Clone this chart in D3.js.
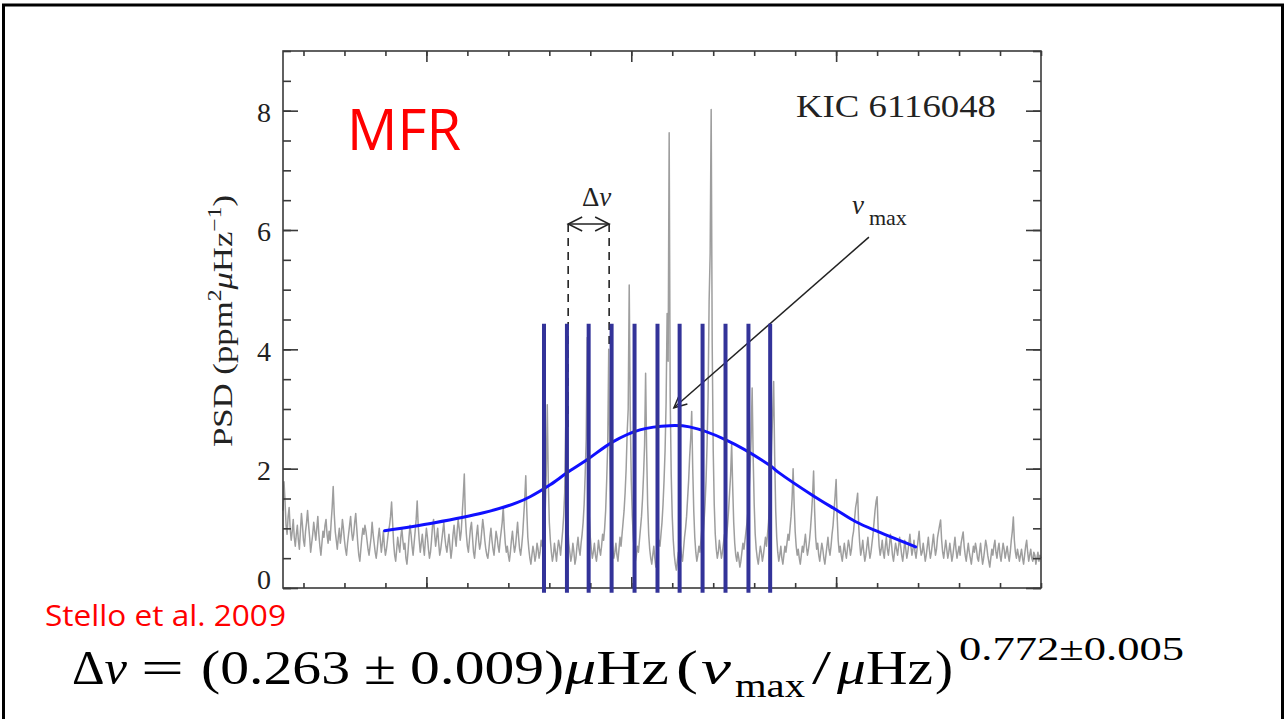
<!DOCTYPE html>
<html>
<head>
<meta charset="utf-8">
<script src="https://cdn.jsdelivr.net/npm/d3@7"></script>
<style>
  body { margin: 0; background: #fff; }
  svg { display: block; }
</style>
</head>
<body>
<svg id="chart" width="1285" height="719"></svg>
<script>
// Power spectrum of KIC 6116048: frequency grid (μHz) and PSD values (ppm² μHz⁻¹)
const freqStart = 1150;
const freqStep = 2.5;
const psd = [
  1.30,1.78,1.45,1.05,0.90,1.20,1.35,1.00,0.80,0.95,1.15,0.85,0.70,0.90,1.05,0.80,0.65,0.95,1.25,1.05,
  0.80,0.70,0.95,1.10,1.30,1.05,0.85,0.60,0.75,0.90,1.10,0.95,0.80,1.00,1.20,0.90,0.70,0.55,0.75,0.95,
  0.85,1.05,1.15,0.90,0.75,0.95,0.80,1.10,1.35,1.70,1.25,0.95,0.80,0.65,0.85,1.00,0.75,0.90,1.15,1.00,
  0.80,0.65,0.55,0.75,0.90,1.05,1.20,0.95,0.80,0.90,1.10,1.25,1.00,0.75,0.55,0.45,0.65,0.85,1.00,0.90,
  1.05,0.95,0.80,0.65,0.55,0.70,0.85,1.10,0.90,0.75,0.60,0.50,0.65,0.85,1.00,0.80,0.60,0.75,0.95,0.70,
  0.55,0.65,0.80,0.95,1.05,1.20,1.44,1.10,0.75,0.55,0.45,0.65,0.85,0.70,0.60,0.85,1.00,0.80,0.65,0.75,
  0.50,0.40,0.60,0.85,1.05,0.90,0.70,0.55,0.75,0.95,1.15,1.46,1.05,0.80,0.60,0.75,0.90,0.70,0.55,0.80,
  1.00,0.85,0.65,0.50,0.60,0.80,1.05,1.15,0.90,0.70,0.85,1.00,0.75,0.55,0.65,0.80,0.95,1.10,0.85,0.70,
  0.60,0.75,0.90,0.70,0.50,0.65,0.90,1.05,0.85,0.70,0.95,1.15,1.00,0.80,0.95,1.25,1.55,1.91,1.20,0.90,
  0.70,0.60,0.80,1.00,1.10,0.85,0.60,0.50,0.70,0.90,1.05,0.80,0.65,0.75,0.95,1.15,1.00,0.80,0.65,0.55,
  0.50,0.65,0.85,1.00,0.80,0.65,0.55,0.75,0.95,0.85,0.70,0.60,0.80,0.95,1.10,1.36,1.00,0.75,0.60,0.70,
  0.55,0.45,0.60,0.80,0.95,0.75,0.60,0.70,0.90,1.10,0.85,0.65,0.55,0.70,0.90,1.20,1.50,1.88,1.30,0.85,
  0.65,0.50,0.40,0.55,0.70,0.60,0.45,0.55,0.75,0.65,0.50,0.60,0.80,0.70,0.85,1.00,1.30,1.90,3.07,1.80,
  1.10,0.80,0.60,0.45,0.55,0.75,0.60,0.45,0.65,0.80,0.70,0.55,0.75,0.95,1.20,1.60,2.70,1.70,1.05,0.75,
  0.60,0.45,0.55,0.75,0.60,0.40,0.50,0.70,0.85,0.65,0.55,0.75,0.90,1.10,1.40,1.90,2.50,4.20,2.10,1.20,
  0.85,0.65,0.50,0.60,0.75,0.55,0.45,0.60,0.80,0.65,0.55,0.70,0.90,0.80,1.00,1.30,1.80,2.40,4.00,2.20,
  1.30,0.90,0.65,0.50,0.60,0.75,0.55,0.45,0.65,0.85,0.70,0.90,1.10,1.30,1.60,2.00,2.60,3.00,5.08,2.90,
  1.80,1.20,0.85,0.60,0.45,0.55,0.70,0.60,0.80,1.00,1.20,1.50,1.90,2.40,3.60,2.30,1.40,0.90,0.65,0.50,
  0.40,0.55,0.70,0.50,0.35,0.45,0.65,0.80,0.70,0.90,1.10,1.40,1.80,2.30,3.10,4.60,3.80,7.63,3.20,1.90,
  1.20,0.80,0.55,0.40,0.30,0.45,0.60,0.50,0.70,0.55,0.45,0.65,0.85,1.00,1.20,1.50,1.80,2.20,2.50,2.96,
  2.00,1.30,0.85,0.60,0.45,0.55,0.70,0.60,0.80,1.00,0.85,1.10,1.40,1.80,2.40,3.20,4.80,5.60,8.02,4.10,
  2.30,1.40,0.90,0.65,0.50,0.60,0.80,0.65,0.50,0.60,0.75,0.90,0.70,0.85,1.05,1.30,1.60,1.90,2.43,1.70,
  1.10,0.75,0.55,0.45,0.60,0.50,0.35,0.45,0.60,0.75,0.65,0.80,0.95,1.10,1.30,1.60,2.00,2.50,3.35,2.20,
  1.40,0.90,0.65,0.50,0.40,0.55,0.70,0.60,0.45,0.55,0.70,0.85,0.70,0.90,1.10,1.40,1.80,2.40,2.90,3.46,
  2.20,1.30,0.85,0.60,0.45,0.55,0.70,0.50,0.40,0.55,0.70,0.60,0.75,0.90,0.80,1.00,1.20,1.50,2.00,1.40,
  0.95,0.70,0.55,0.65,0.50,0.40,0.55,0.70,0.60,0.75,0.90,0.70,0.55,0.65,0.80,1.00,1.25,1.55,1.96,1.30,
  0.85,0.65,0.75,0.55,0.45,0.60,0.75,0.65,0.50,0.40,0.55,0.70,0.85,0.65,0.55,0.70,0.90,1.05,1.30,1.55,
  1.82,1.20,0.80,0.60,0.70,0.55,0.45,0.60,0.75,0.60,0.50,0.65,0.80,0.70,0.55,0.65,0.85,0.95,1.15,1.35,
  1.45,1.59,1.05,0.75,0.55,0.65,0.80,0.60,0.45,0.55,0.70,0.85,0.65,0.50,0.60,0.75,0.90,1.10,1.30,1.45,
  1.53,1.00,0.70,0.55,0.65,0.80,0.60,0.50,0.70,0.85,0.65,0.55,0.70,0.90,0.75,0.55,0.45,0.60,0.75,0.65,
  0.55,0.70,0.85,0.70,0.55,0.45,0.60,0.80,0.65,0.50,0.60,0.75,0.90,0.70,0.55,0.65,0.80,0.60,0.50,0.65,
  0.80,0.95,0.70,0.55,0.60,0.75,0.60,0.45,0.55,0.70,0.85,0.65,0.50,0.60,0.75,0.90,0.70,0.55,0.65,0.85,
  0.95,1.05,1.14,0.80,0.60,0.50,0.65,0.80,0.65,0.50,0.60,0.75,0.60,0.45,0.55,0.70,0.85,0.65,0.50,0.60,
  0.70,0.55,0.75,0.85,0.94,0.70,0.55,0.45,0.60,0.75,0.60,0.50,0.40,0.55,0.70,0.60,0.75,0.65,0.50,0.45,
  0.60,0.75,0.55,0.40,0.50,0.65,0.80,0.70,0.55,0.45,0.35,0.50,0.65,0.55,0.70,0.80,0.60,0.50,0.65,0.75,
  0.55,0.45,0.60,0.75,0.65,0.50,0.60,0.70,0.55,0.45,0.60,0.80,0.95,1.19,0.80,0.60,0.50,0.65,0.55,0.45,
  0.55,0.65,0.50,0.40,0.55,0.70,0.80,0.60,0.45,0.55,0.65,0.50,0.45,0.60,0.55,0.40,0.50,0.60,0.45,0.55,
  0.50
];

// Smoothed power envelope (blue curve)
const fitFreq = [1398,1517,1639,1721,1753,1802,1843,1892,1955,2021,2094,2142,2232,2337,2361,2441,2500,2548,2604,2694];
const fitPsd  = [0.96,1.09,1.26,1.43,1.53,1.73,1.93,2.15,2.45,2.65,2.72,2.70,2.48,2.06,1.93,1.56,1.31,1.11,0.94,0.69];

// Frequency markers drawn over the spectrum
const markerFreq = [1787,1843,1896,1952,2008,2064,2118,2174,2230,2286,2339];
const markerTop = 4.43;
const markerBottom = -0.08;

// Large frequency separation annotation
const dnuFreq = [1846, 1946];
const dnuLevel = 6.1;
const dnuPeak = [2.7, 4.0];

// nu_max arrow: from label to the envelope peak
const numaxFrom = [2580, 5.88];
const numaxTo = [2104, 3.02];

// Axis ticks
const yMajor = [0, 2, 4, 6, 8];
const yMinor = d3.range(0, 9.01, 0.5);
const xMajor = [1500, 2000, 2500];
const xMinor = d3.range(1200, 3001, 100);

const svg = d3.select("#chart");
const plotLeft = 283, plotRight = 1041, plotTop = 51, plotBottom = 588;

// Slide frame
svg.append("rect").attr("x", 3.5).attr("y", 5).attr("width", 1279).attr("height", 800)
  .attr("fill", "none").attr("stroke", "#000").attr("stroke-width", 3);

const x = d3.scaleLinear().domain([1150, 3000]).range([plotLeft, plotRight]);
const y = d3.scaleLinear().domain([0, 9]).range([plotBottom, plotTop]);

const plot = svg.append("g");

// Spectrum
const spec = psd.map((v, i) => [freqStart + i * freqStep, v]);
plot.append("path")
  .datum(spec)
  .attr("fill", "none")
  .attr("stroke", "#9e9e9e")
  .attr("stroke-width", 1.5)
  .attr("stroke-linejoin", "round")
  .attr("d", d3.line().x(d => x(d[0])).y(d => y(d[1])));

// Axes frame
const axisColor = "#3a3a3a";
plot.append("rect").attr("x", plotLeft).attr("y", plotTop)
  .attr("width", plotRight - plotLeft).attr("height", plotBottom - plotTop)
  .attr("fill", "none").attr("stroke", axisColor).attr("stroke-width", 1.6);

function styleAxis(g) {
  g.select(".domain").remove();
  g.selectAll(".tick line").attr("stroke", axisColor).attr("stroke-width", 1.6);
}

// y ticks (inward on both sides)
svg.append("g").attr("transform", `translate(${plotLeft},0)`)
  .call(d3.axisLeft(y).tickValues(yMinor).tickSize(-8).tickFormat(""))
  .call(styleAxis);
svg.append("g").attr("transform", `translate(${plotLeft},0)`)
  .call(d3.axisLeft(y).tickValues(yMajor).tickSize(-15).tickPadding(12).tickFormat(d3.format("d")))
  .call(styleAxis)
  .call(g => g.selectAll("text")
    .attr("font-family", "'Liberation Serif', serif")
    .attr("font-size", 28)
    .attr("fill", "#222")
    .attr("y", d => d === 0 ? -8 : 2));
svg.append("g").attr("transform", `translate(${plotRight},0)`)
  .call(d3.axisRight(y).tickValues(yMinor).tickSize(-8).tickFormat(""))
  .call(styleAxis);
svg.append("g").attr("transform", `translate(${plotRight},0)`)
  .call(d3.axisRight(y).tickValues(yMajor).tickSize(-15).tickFormat(""))
  .call(styleAxis);

// x ticks (inward, unlabelled)
[[plotBottom, d3.axisBottom], [plotTop, d3.axisTop]].forEach(([pos, ax]) => {
  svg.append("g").attr("transform", `translate(0,${pos})`)
    .call(ax(x).tickValues(xMinor).tickSize(-5).tickFormat(""))
    .call(styleAxis);
  svg.append("g").attr("transform", `translate(0,${pos})`)
    .call(ax(x).tickValues(xMajor).tickSize(-11).tickFormat(""))
    .call(styleAxis);
});

// y axis title
const yt = svg.append("text")
  .attr("transform", `translate(232,321) rotate(-90)`)
  .attr("text-anchor", "middle")
  .attr("font-family", "'Liberation Serif', serif")
  .attr("font-size", 28)
  .attr("fill", "#222")
  .attr("textLength", 252)
  .attr("lengthAdjust", "spacingAndGlyphs");
yt.append("tspan").text("PSD (ppm");
yt.append("tspan").attr("font-size", 19).attr("dy", -11).text("2");
yt.append("tspan").attr("font-style", "italic").attr("dy", 11).text("μ");
yt.append("tspan").text("Hz");
yt.append("tspan").attr("font-size", 19).attr("dy", -11).text("−1");
yt.append("tspan").attr("dy", 11).text(")");

// Star label
svg.append("text")
  .attr("x", 796).attr("y", 117)
  .attr("font-family", "'Liberation Serif', serif")
  .attr("font-size", 31)
  .attr("fill", "#222")
  .attr("textLength", 200)
  .attr("lengthAdjust", "spacingAndGlyphs")
  .text("KIC 6116048");

// Δν annotation
const ann = svg.append("g").attr("stroke", "#222").attr("fill", "none");
dnuFreq.forEach((f, i) => {
  ann.append("line")
    .attr("x1", x(f)).attr("x2", x(f))
    .attr("y1", y(dnuLevel)).attr("y2", y(dnuPeak[i]))
    .attr("stroke-width", 1.6).attr("stroke-dasharray", "8,6");
});
ann.append("line")
  .attr("x1", x(dnuFreq[0])).attr("x2", x(dnuFreq[1]))
  .attr("y1", y(dnuLevel)).attr("y2", y(dnuLevel))
  .attr("stroke-width", 1.5);
const ah = 14, aw = 7;
ann.append("path").attr("stroke-width", 1.5)
  .attr("d", `M${x(dnuFreq[0]) + ah},${y(dnuLevel) - aw} L${x(dnuFreq[0])},${y(dnuLevel)} L${x(dnuFreq[0]) + ah},${y(dnuLevel) + aw}`);
ann.append("path").attr("stroke-width", 1.5)
  .attr("d", `M${x(dnuFreq[1]) - ah},${y(dnuLevel) - aw} L${x(dnuFreq[1])},${y(dnuLevel)} L${x(dnuFreq[1]) - ah},${y(dnuLevel) + aw}`);
const dl = svg.append("text")
  .attr("x", (x(dnuFreq[0]) + x(dnuFreq[1])) / 2 + 8).attr("y", 206)
  .attr("text-anchor", "middle")
  .attr("font-family", "'Liberation Serif', serif")
  .attr("font-size", 27)
  .attr("fill", "#222");
dl.append("tspan").text("Δ");
dl.append("tspan").attr("font-style", "italic").text("ν");

// ν_max arrow and label
const p0 = [x(numaxFrom[0]), y(numaxFrom[1])];
const p1 = [x(numaxTo[0]), y(numaxTo[1])];
ann.append("line")
  .attr("x1", p0[0]).attr("y1", p0[1]).attr("x2", p1[0]).attr("y2", p1[1])
  .attr("stroke-width", 1.5);
{
  const ang = Math.atan2(p0[1] - p1[1], p0[0] - p1[0]);
  const a1 = ang + 0.45, a2 = ang - 0.45, L = 14;
  ann.append("path").attr("stroke-width", 1.5)
    .attr("d", `M${p1[0] + L * Math.cos(a1)},${p1[1] + L * Math.sin(a1)} L${p1[0]},${p1[1]} L${p1[0] + L * Math.cos(a2)},${p1[1] + L * Math.sin(a2)}`);
}
const nl = svg.append("text")
  .attr("x", 852).attr("y", 214)
  .attr("font-family", "'Liberation Serif', serif")
  .attr("font-size", 27)
  .attr("fill", "#222");
nl.append("tspan").attr("font-style", "italic").text("ν");
nl.append("tspan").attr("font-size", 22).attr("dx", 5).attr("dy", 11).text("max");

// Envelope curve
const fit = fitFreq.map((f, i) => [f, fitPsd[i]]);
svg.append("path")
  .datum(fit)
  .attr("fill", "none")
  .attr("stroke", "#1010ff")
  .attr("stroke-width", 3)
  .attr("stroke-linecap", "round")
  .attr("d", d3.line().x(d => x(d[0])).y(d => y(d[1])).curve(d3.curveCatmullRom));

// Frequency markers
svg.append("g").selectAll("line")
  .data(markerFreq)
  .join("line")
  .attr("x1", d => x(d)).attr("x2", d => x(d))
  .attr("y1", y(markerTop)).attr("y2", y(markerBottom))
  .attr("stroke", "#333399")
  .attr("stroke-width", 4);

// Red slide labels
svg.append("text")
  .attr("x", 347).attr("y", 150)
  .attr("font-family", "'Open Sans', sans-serif")
  .attr("font-size", 56)
  .attr("fill", "#ff0000")
  .attr("textLength", 114)
  .attr("lengthAdjust", "spacingAndGlyphs")
  .text("MFR");
svg.append("text")
  .attr("x", 45).attr("y", 626)
  .attr("font-family", "'Open Sans', sans-serif")
  .attr("font-size", 30)
  .attr("fill", "#ff0000")
  .attr("textLength", 241)
  .attr("lengthAdjust", "spacingAndGlyphs")
  .text("Stello et al. 2009");

// Scaling relation
const eq = svg.append("g")
  .attr("font-family", "'Liberation Serif', serif")
  .attr("fill", "#000");
const base = 684, fs = 49;
function piece(xx, yy, size, parts, len) {
  const t = eq.append("text").attr("x", xx).attr("y", yy).attr("font-size", size);
  if (len) t.attr("textLength", len).attr("lengthAdjust", "spacingAndGlyphs");
  parts.forEach(p => {
    const s = t.append("tspan").text(p.t);
    if (p.i) s.attr("font-style", "italic");
  });
  return t;
}
piece(72, base, fs, [{t: "Δ"}, {t: "ν", i: true}], 55);
piece(141, base, fs, [{t: "="}], 43);
piece(201, base, fs, [{t: "(0.263"}], 149);
piece(364, base, fs, [{t: "±"}], 32);
piece(410, base, fs, [{t: "0.009)"}], 154);
piece(565, base, fs, [{t: "μ", i: true}, {t: "Hz"}], 104);
piece(676, base, fs, [{t: "("}], 22);
piece(701, base, fs, [{t: "ν", i: true}], 30);
piece(735, base + 13, 34, [{t: "max"}], 70);
piece(812, base, fs, [{t: "/"}], 19);
piece(837, base, fs, [{t: "μ", i: true}, {t: "Hz"}], 96);
piece(935, base, fs, [{t: ")"}], 18);
piece(959, 660, 34, [{t: "0.772±0.005"}], 225);
</script>
</body>
</html>
